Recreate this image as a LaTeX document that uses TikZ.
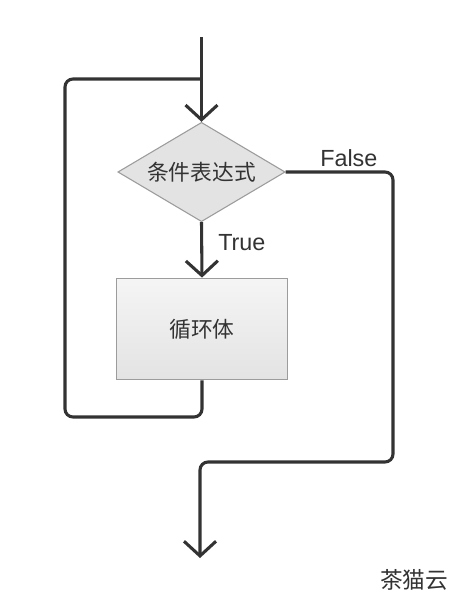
\documentclass[tikz,border=0pt]{standalone}
\usepackage{fontspec}
\setmainfont{Liberation Sans}
\newfontfamily\cjk{Noto Sans CJK SC}
\usetikzlibrary{shapes.geometric,arrows.meta,shadings}
\definecolor{ln}{HTML}{333333}
\definecolor{bd}{HTML}{9C9C9C}
\tikzset{
  conn/.style={draw=ln, line width=2.3pt, rounded corners=6pt},
  tip/.style={-{Straight Barb[length=11pt,width=24pt,line width=2.3pt]}},
  cond/.style={diamond, draw=bd, line width=0.8pt, fill=gray!22, inner sep=0pt,
    minimum width=125.5pt, minimum height=74.5pt, aspect=1.69, font=\cjk\fontsize{16.3}{18}\selectfont, text=ln},
  body/.style={rectangle, draw=bd, line width=0.8pt, top color=gray!8, bottom color=gray!22,
    minimum width=128pt, minimum height=76.3pt, inner sep=0pt, font=\cjk\fontsize{16.3}{18}\selectfont, text=ln},
  lbl/.style={font=\fontsize{17.5}{19}\selectfont, text=ln, inner sep=0pt}
}
\begin{document}
\begin{tikzpicture}[x=0.75pt,y=-0.75pt]
\useasboundingbox (0,0) rectangle (455,600);
\fill[white] (0,0) rectangle (455,600);
\node[cond] (d) at (201.5,172) {条件表达式};
\node[body] (b) at (202,329) {循环体};
\coordinate (start) at (201.5,37);
\coordinate (j) at (201.5,79);
\coordinate (bl) at (65,417);
\coordinate (tl) at (65,79);
\coordinate (fc) at (393,462);
\coordinate (end) at (200,558);
\draw[conn,tip] (start) -- (d.north);
\draw[conn,tip] (d.south) -- (b.north);
\draw[conn] (b.south) |- (bl) -- (tl) -- (j);
\draw[conn,tip] (d.east) -| (fc) -| (end);
\node[lbl, anchor=west] (t) at (218,243) {True};
\node[lbl, anchor=west] (f) at (320,158) {False};
\node[font=\cjk\fontsize{17}{19}\selectfont, text=black!80, inner sep=0pt] (w) at (414,580) {茶猫云};
\end{tikzpicture}
\end{document}
